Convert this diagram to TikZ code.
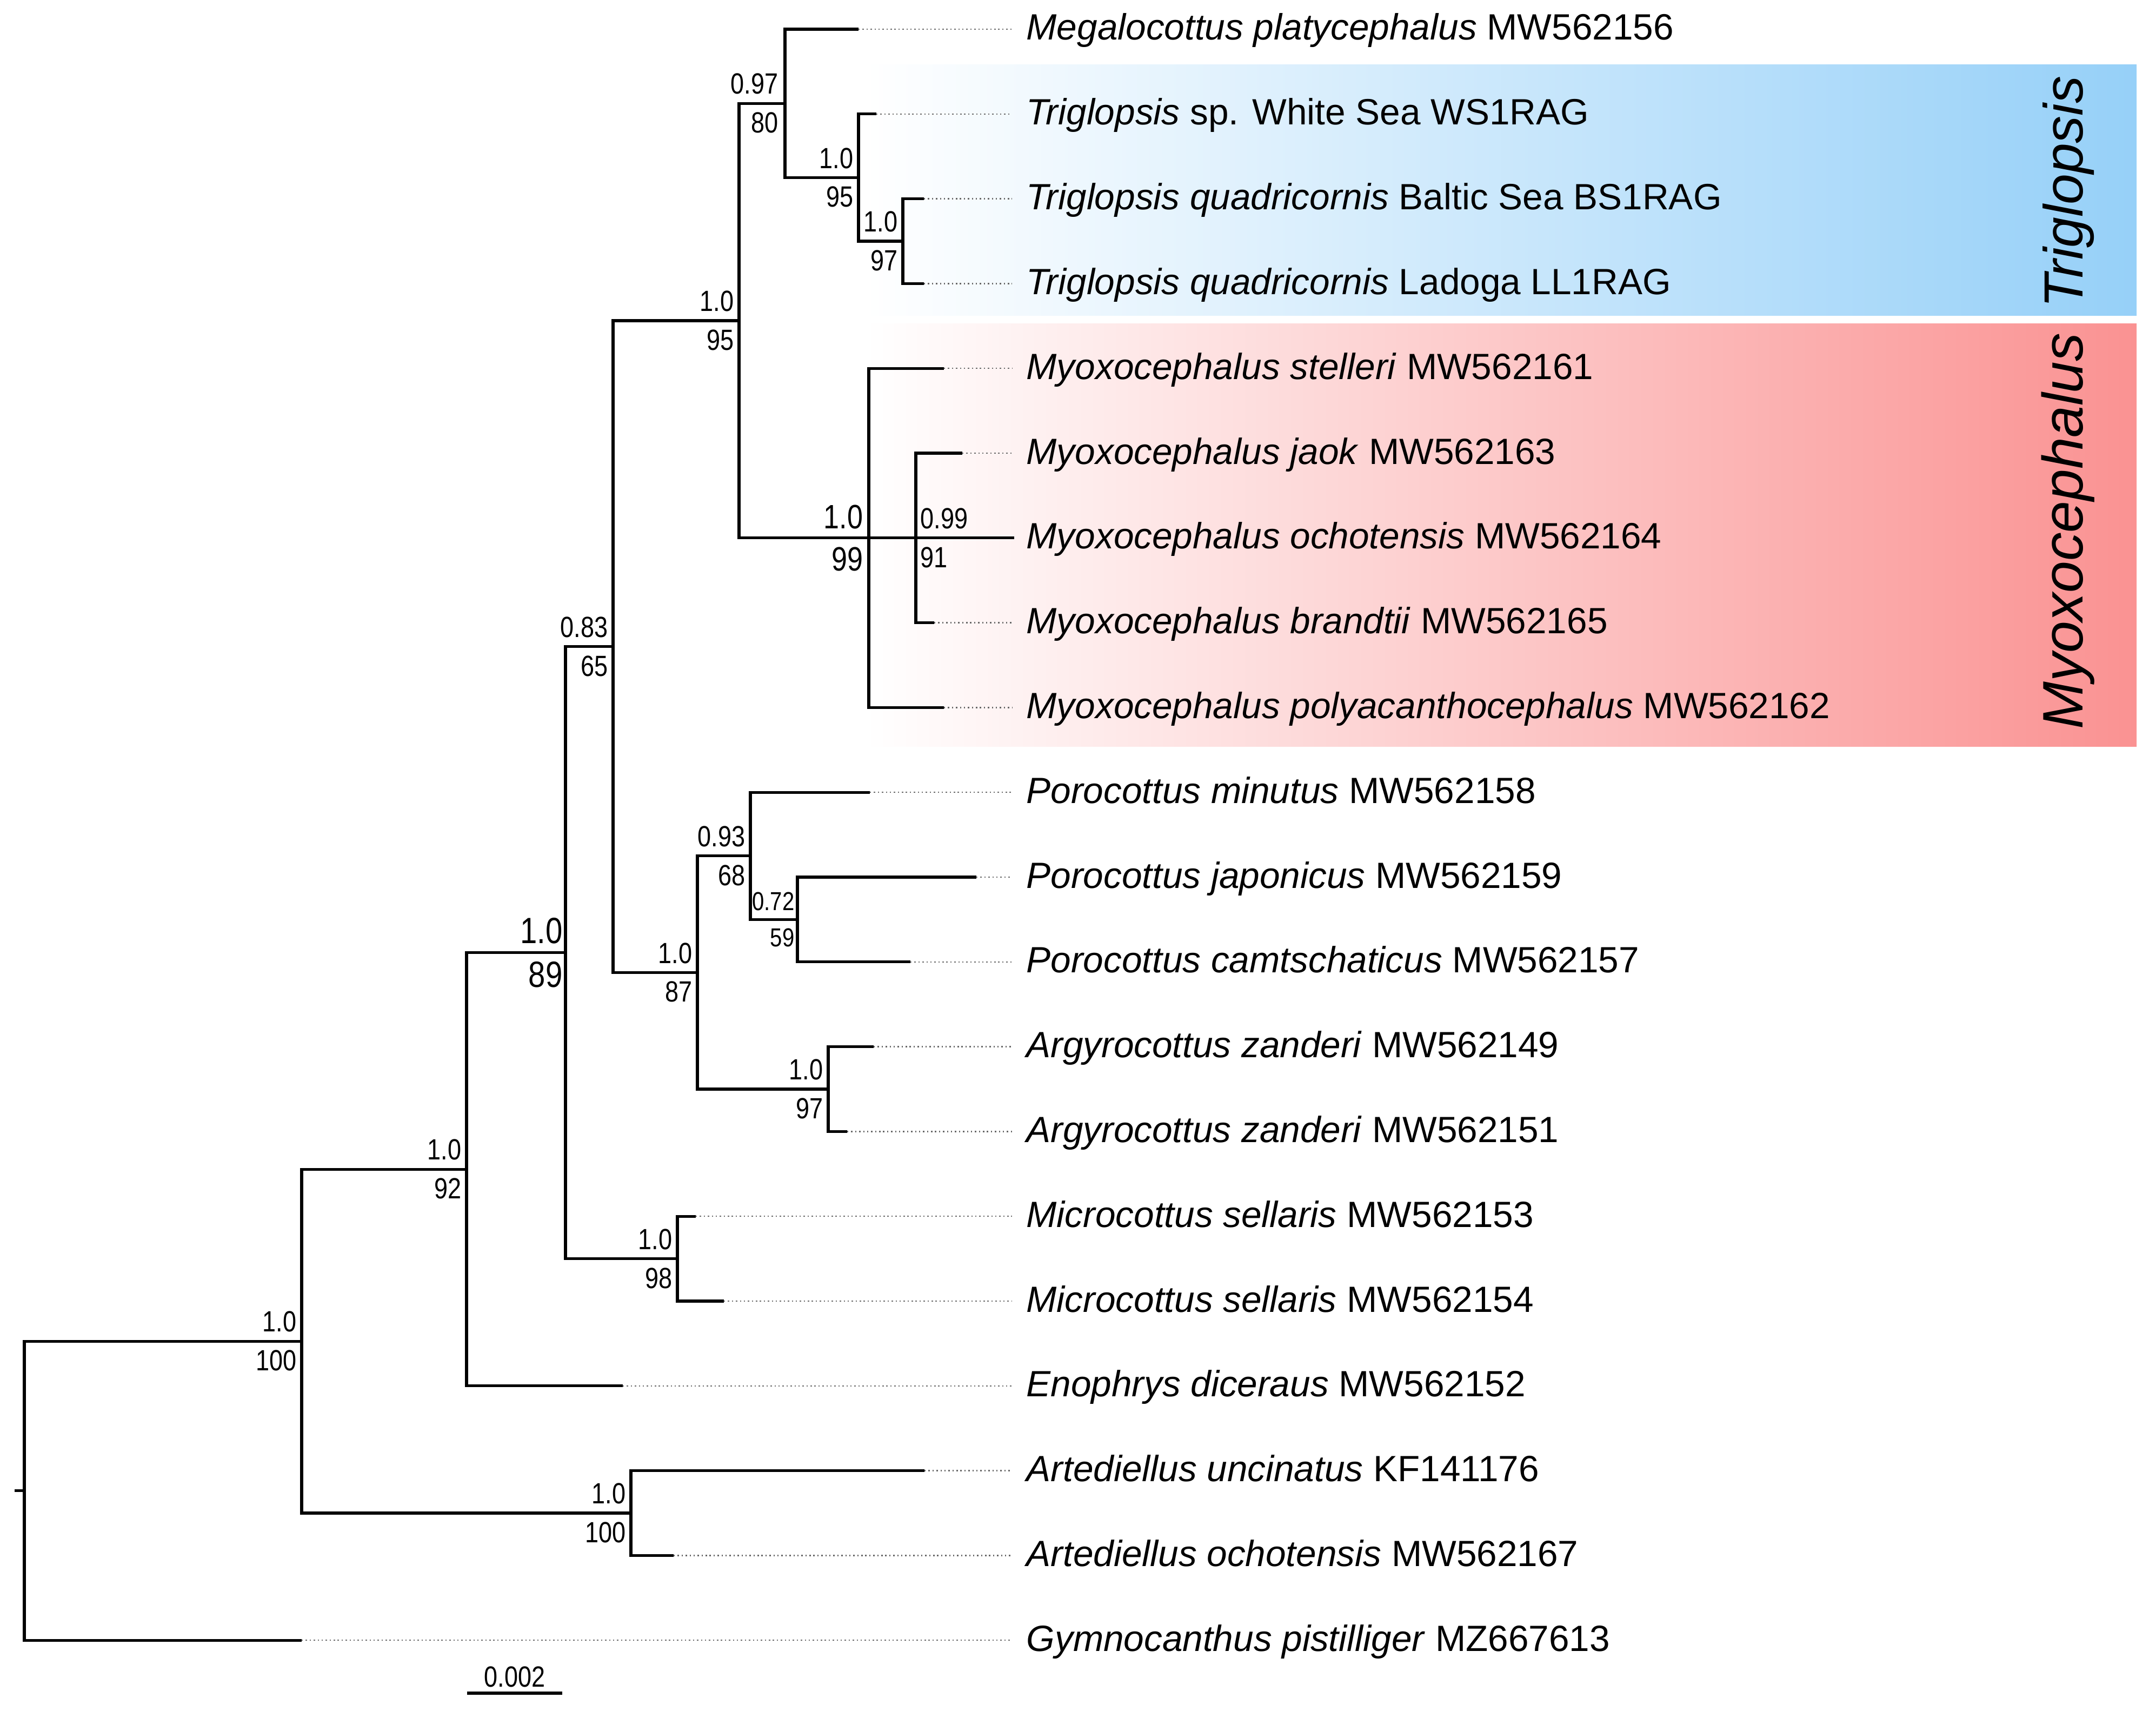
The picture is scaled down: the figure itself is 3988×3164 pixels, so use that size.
\documentclass[tikz,border=0pt]{standalone}
\usepackage{fontspec}
\setmainfont{Liberation Sans}
\definecolor{tblue}{RGB}{150,208,248}
\definecolor{mred}{RGB}{250,146,146}
\definecolor{dotgray}{RGB}{105,105,105}
\tikzset{
  branch/.style={line width=1.45pt, black},
  dotl/.style={line width=0.65pt, dotgray, dash pattern=on 0.7pt off 1.4pt},
  leaf/.style={inner sep=0pt, anchor=base west, font=\fontsize{19.2}{23}\selectfont},
  supl/.style={inner sep=0pt, font=\fontsize{12.8}{15}\selectfont},
  clade/.style={inner sep=0pt, rotate=90, anchor=base},
}
\newcommand\vstr[1]{\scalebox{1}[1.2]{#1}}
\newcommand\bsv[5][]{%
  \node[supl,anchor=south east,#1] (#2a) at ([shift={(-#5,-16)}]#2) {\vstr{#3}};
  \node[supl,anchor=north east,#1] (#2b) at ([shift={(-#5,16)}]#2) {\vstr{#4}};
}
\begin{document}
\begin{tikzpicture}[x=0.01cm,y=-0.01cm]
\useasboundingbox (0,0) rectangle (3988,3164);
\fill[white] (0,0) rectangle (3988,3164);
% clade bands
\shade[left color=white, right color=tblue] (1600,120) rectangle (3952,584);
\shade[left color=white, right color=mred] (1600,599) rectangle (3952,1380);
\node[clade, font=\fontsize{29}{33}\selectfont\itshape] (tlab) at (3852,355) {Triglopsis};
\node[clade, font=\fontsize{30}{34}\selectfont\itshape] (mlab) at (3852,982) {Myoxocephalus};
% leaves
\foreach \i/\y/\xe in {0/54.0/1588, 1/210.8/1621, 2/367.6/1709, 3/524.4/1709,
  4/681.2/1746, 5/838.0/1780, 6/994.8/1876, 7/1151.6/1728, 8/1308.4/1746,
  9/1465.2/1609, 10/1622.0/1806, 11/1778.8/1684, 12/1935.6/1616, 13/2092.4/1567,
  14/2249.2/1287, 15/2406.0/1339, 16/2562.8/1152, 17/2719.6/1710, 18/2876.4/1246,
  19/3033.2/558}{
  \coordinate (t\i) at (\xe,\y);
  \coordinate (d\i) at (1872,\y);
}
\node[leaf] (l0) at (1898,74.0) {\textit{Megalocottus platycephalus} MW562156};
\node[leaf] (l1) at (1898,230.8) {\textit{Triglopsis} sp. White Sea WS1RAG};
\node[leaf] (l2) at (1898,387.6) {\textit{Triglopsis quadricornis} Baltic Sea BS1RAG};
\node[leaf] (l3) at (1898,544.4) {\textit{Triglopsis quadricornis} Ladoga LL1RAG};
\node[leaf] (l4) at (1898,701.2) {\textit{Myoxocephalus stelleri} MW562161};
\node[leaf] (l5) at (1898,858.0) {\textit{Myoxocephalus jaok} MW562163};
\node[leaf] (l6) at (1898,1014.8) {\textit{Myoxocephalus ochotensis} MW562164};
\node[leaf] (l7) at (1898,1171.6) {\textit{Myoxocephalus brandtii} MW562165};
\node[leaf] (l8) at (1898,1328.4) {\textit{Myoxocephalus polyacanthocephalus} MW562162};
\node[leaf] (l9) at (1898,1485.2) {\textit{Porocottus minutus} MW562158};
\node[leaf] (l10) at (1898,1642.0) {\textit{Porocottus japonicus} MW562159};
\node[leaf] (l11) at (1898,1798.8) {\textit{Porocottus camtschaticus} MW562157};
\node[leaf] (l12) at (1898,1955.6) {\textit{Argyrocottus zanderi} MW562149};
\node[leaf] (l13) at (1898,2112.4) {\textit{Argyrocottus zanderi} MW562151};
\node[leaf] (l14) at (1898,2269.2) {\textit{Microcottus sellaris} MW562153};
\node[leaf] (l15) at (1898,2426.0) {\textit{Microcottus sellaris} MW562154};
\node[leaf] (l16) at (1898,2582.8) {\textit{Enophrys diceraus} MW562152};
\node[leaf] (l17) at (1898,2739.6) {\textit{Artediellus uncinatus} KF141176};
\node[leaf] (l18) at (1898,2896.4) {\textit{Artediellus ochotensis} MW562167};
\node[leaf] (l19) at (1898,3053.2) {\textit{Gymnocanthus pistilliger} MZ667613};
% dotted leaders
\foreach \i in {0,1,2,3,4,5,7,8,9,10,11,12,13,14,15,16,17,18,19}{
  \draw[dotl] (t\i) -- (d\i);
}
% internal nodes
\coordinate (C) at (1670,446.0);
\coordinate (B) at (1588,328.4);
\coordinate (A) at (1452,191.2);
\coordinate (M2) at (1694,994.8);
\coordinate (M1) at (1607,994.8);
\coordinate (D) at (1367,593.0);
\coordinate (H) at (1475,1700.4);
\coordinate (G) at (1388,1582.8);
\coordinate (Ag) at (1532,2014.0);
\coordinate (F) at (1290,1798.4);
\coordinate (E) at (1134,1195.7);
\coordinate (Mc) at (1253,2327.6);
\coordinate (N89) at (1046,1761.6);
\coordinate (N2) at (863,2162.2);
\coordinate (Ar) at (1167,2798.0);
\coordinate (N1) at (558,2480.1);
\coordinate (R) at (45,2756.7);
\coordinate (Rs) at (27,2756.7);
% branches
\draw[branch] (t2) -- (C |- t2) -- (C |- t3) -- (t3);
\draw[branch] (t1) -- (B |- t1) -- (B |- C) -- (C);
\draw[branch] (t0) -- (A |- t0) -- (A |- B) -- (B);
\draw[branch] (t5) -- (M2 |- t5) -- (M2 |- t7) -- (t7);
\draw[branch] (M2) -- (t6);
\draw[branch] (t4) -- (M1 |- t4) -- (M1 |- t8) -- (t8);
\draw[branch] (M1) -- (M2);
\draw[branch] (A) -- (D |- A) -- (D |- M1) -- (M1);
\draw[branch] (t10) -- (H |- t10) -- (H |- t11) -- (t11);
\draw[branch] (t9) -- (G |- t9) -- (G |- H) -- (H);
\draw[branch] (t12) -- (Ag |- t12) -- (Ag |- t13) -- (t13);
\draw[branch] (G) -- (F |- G) -- (F |- Ag) -- (Ag);
\draw[branch] (D) -- (E |- D) -- (E |- F) -- (F);
\draw[branch] (t14) -- (Mc |- t14) -- (Mc |- t15) -- (t15);
\draw[branch] (E) -- (N89 |- E) -- (N89 |- Mc) -- (Mc);
\draw[branch] (N89) -- (N2 |- N89) -- (N2 |- t16) -- (t16);
\draw[branch] (t17) -- (Ar |- t17) -- (Ar |- t18) -- (t18);
\draw[branch] (N2) -- (N1 |- N2) -- (N1 |- Ar) -- (Ar);
\draw[branch] (N1) -- (R |- N1) -- (R |- t19) -- (t19);
\draw[branch] (Rs) -- (R);
% support values
\bsv{A}{0.97}{80}{12}
\bsv{B}{1.0}{95}{9}
\bsv{C}{1.0}{97}{9}
\bsv{D}{1.0}{95}{9}
\bsv[font=\fontsize{14.8}{17}\selectfont]{M1}{1.0}{99}{10}
\node[supl,anchor=south west] (M2a) at ([shift={(8,-16)}]M2) {\vstr{0.99}};
\node[supl,anchor=north west] (M2b) at ([shift={(8,16)}]M2) {\vstr{91}};
\bsv{E}{0.83}{65}{9}
\bsv{G}{0.93}{68}{9}
\bsv[font=\fontsize{11.4}{14}\selectfont]{H}{0.72}{59}{5}
\bsv{F}{1.0}{87}{9}
\bsv{Ag}{1.0}{97}{9}
\bsv[font=\fontsize{16}{19}\selectfont]{N89}{1.0}{89}{5}
\bsv{Mc}{1.0}{98}{9}
\bsv{N2}{1.0}{92}{9}
\bsv{N1}{1.0}{100}{9}
\bsv{Ar}{1.0}{100}{9}
% scale bar
\coordinate (sb1) at (864,3131);
\coordinate (sb2) at (1040,3131);
\draw[branch] (sb1) -- (sb2);
\node[supl,anchor=base] (sbl) at (952,3119) {\vstr{0.002}};
\end{tikzpicture}
\end{document}
